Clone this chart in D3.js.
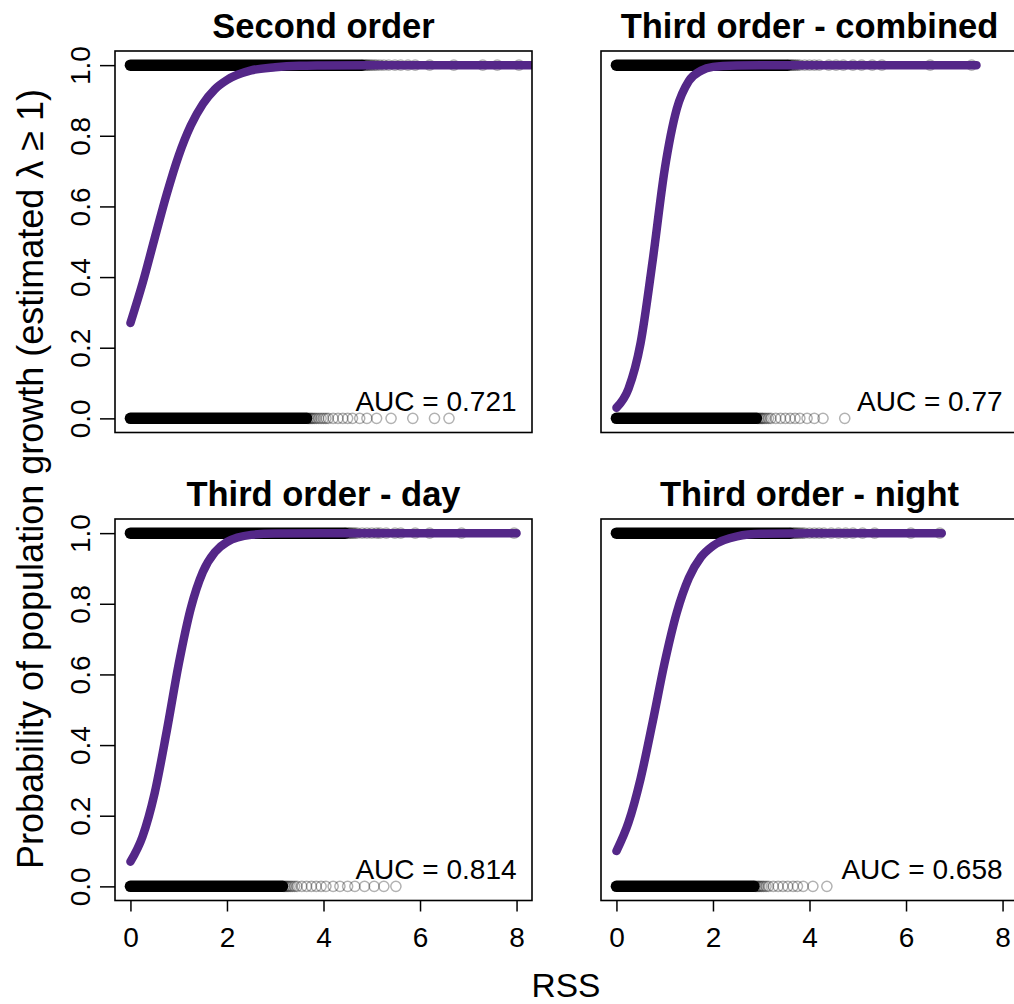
<!DOCTYPE html>
<html><head><meta charset="utf-8">
<script src="https://cdn.jsdelivr.net/npm/d3@7"></script>
<style>
body{margin:0;background:#fff}
svg{display:block}
text{font-family:"Liberation Sans",Arial,Helvetica,sans-serif;fill:#000}
</style>
</head><body>
<svg id="chart" width="1014" height="1004"></svg>
<script>
// ---------- data ----------
const panelTitles = ["Second order", "Third order - combined", "Third order - day", "Third order - night"];
const aucLabels = ["AUC = 0.721", "AUC = 0.77", "AUC = 0.814", "AUC = 0.658"];
const xTicks = [0, 2, 4, 6, 8];
const yTicks = [0, 0.2, 0.4, 0.6, 0.8, 1.0];
const yTickLabels = ["0.0", "0.2", "0.4", "0.6", "0.8", "1.0"];
const xLabel = "RSS";
const yLabel = "Probability of population growth (estimated \u03bb \u2265 1)";

// fitted probability curves: [RSS, probability]
const curveSecond   = [[0,0.270],[0.25,0.382],[0.5,0.509],[0.75,0.634],[1,0.744],[1.25,0.829],[1.5,0.890],[1.75,0.932],[2,0.958],[2.5,0.985],[3,0.994],[3.5,0.998],[4,0.999],[5,1],[6,1],[7,1],[8.32,1]];
const curveCombined = [[0,0.030],[0.25,0.084],[0.5,0.213],[0.75,0.446],[1,0.705],[1.25,0.876],[1.5,0.955],[1.75,0.984],[2,0.995],[2.5,0.999],[3,1],[4,1],[5,1],[6,1],[7.46,1]];
const curveDay      = [[0,0.070],[0.25,0.141],[0.5,0.263],[0.75,0.438],[1,0.629],[1.25,0.787],[1.5,0.890],[1.75,0.946],[2,0.975],[2.5,0.995],[3,0.999],[4,1],[5,1],[6,1],[7,1],[8,1]];
const curveNight    = [[0,0.100],[0.25,0.181],[0.5,0.305],[0.75,0.465],[1,0.634],[1.25,0.775],[1.5,0.873],[1.75,0.932],[2,0.964],[2.5,0.991],[3,0.998],[4,1],[5,1],[6.74,1]];

// observations (lambda >= 1 -> 1, otherwise 0): densely packed RSS ranges
const denseGrowth  = [[0, 4.80], [0, 3.55], [0, 4.45], [0, 3.60]];
const denseDecline = [[0, 3.65], [0, 2.90], [0, 3.15], [0, 2.85]];
// individual observations beyond the dense ranges
const tailGrowth = [
  [4.83,4.86,4.89,4.92,4.96,5.0,5.05,5.1,5.17,5.25,5.35,5.48,5.6,5.75,5.9,6.2,6.7,7.3,7.6,8.05],
  [3.58,3.61,3.64,3.67,3.71,3.75,3.8,3.9,4.0,4.1,4.2,4.4,4.55,4.7,4.9,5.08,5.3,5.5,6.5,7.36],
  [4.48,4.51,4.54,4.57,4.61,4.65,4.7,4.8,4.9,5.0,5.1,5.17,5.3,5.48,5.6,5.9,6.2,6.86,7.95],
  [3.63,3.66,3.69,3.72,3.76,3.8,3.85,3.9,4.0,4.1,4.2,4.3,4.45,4.6,4.75,4.9,5.1,5.35,6.1,6.7]
];
const tailDecline = [
  [3.68,3.71,3.74,3.77,3.81,3.85,3.9,3.95,4.0,4.05,4.1,4.2,4.3,4.4,4.5,4.6,4.75,4.9,5.1,5.4,5.85,6.3,6.6],
  [2.93,2.96,2.99,3.02,3.06,3.1,3.15,3.2,3.3,3.4,3.5,3.6,3.7,3.8,3.95,4.1,4.28,4.73],
  [3.18,3.21,3.24,3.27,3.31,3.35,3.4,3.45,3.55,3.65,3.75,3.85,3.95,4.05,4.2,4.34,4.5,4.65,4.85,5.05,5.25,5.5],
  [2.88,2.91,2.94,2.97,3.01,3.05,3.1,3.15,3.25,3.35,3.45,3.55,3.66,3.75,3.87,4.07,4.36]
];
const curves = [curveSecond, curveCombined, curveDay, curveNight];

// ---------- layout ----------
const svg = d3.select("#chart");
const colX = [115, 601], rowY = [51, 519];
const boxW = 417, boxH = 381.5;
const curveColor = "#542788";
const xDomain = [-0.32, 8.32], yDomain = [-0.04, 1.04];

panelTitles.forEach((title, i) => {
  const col = i % 2, row = Math.floor(i / 2);
  const x0 = colX[col], y0 = rowY[row];
  const x = d3.scaleLinear().domain(xDomain).range([x0, x0 + boxW]);
  const y = d3.scaleLinear().domain(yDomain).range([y0 + boxH, y0]);
  const g = svg.append("g");

  const clipId = "clip" + i;
  g.append("clipPath").attr("id", clipId)
    .append("rect").attr("x", x0).attr("y", y0).attr("width", boxW).attr("height", boxH);
  const inner = g.append("g").attr("clip-path", `url(#${clipId})`);

  // dense observation bands
  const band = d3.line().x(d => x(d[0])).y(d => y(d[1]));
  [[denseGrowth[i], 1], [denseDecline[i], 0]].forEach(([r, v]) => {
    inner.append("path")
      .attr("d", band([[r[0], v], [r[1], v]]))
      .attr("stroke", "#000").attr("stroke-width", 11.5)
      .attr("stroke-linecap", "round").attr("fill", "none");
  });
  // individual observations
  [[tailGrowth[i], 1], [tailDecline[i], 0]].forEach(([arr, v]) => {
    inner.selectAll(null).data(arr).enter().append("circle")
      .attr("cx", d => x(d)).attr("cy", y(v)).attr("r", 5.1)
      .attr("fill", "none").attr("stroke", "#000")
      .attr("stroke-width", 1.5).attr("stroke-opacity", 0.3);
  });

  // fitted curve
  inner.append("path")
    .attr("d", d3.line().x(d => x(d[0])).y(d => y(d[1])).curve(d3.curveMonotoneX)(curves[i]))
    .attr("fill", "none").attr("stroke", curveColor).attr("stroke-width", 8.5)
    .attr("stroke-linecap", "round").attr("stroke-linejoin", "round");

  // box
  g.append("rect").attr("x", x0).attr("y", y0).attr("width", boxW).attr("height", boxH)
    .attr("fill", "none").attr("stroke", "#000").attr("stroke-width", 1.6);

  // title
  g.append("text").attr("x", x0 + boxW / 2).attr("y", y0 - 13)
    .attr("text-anchor", "middle").attr("font-weight", "bold")
    .attr("font-size", 34.5).text(title);

  // AUC label
  g.append("text").attr("x", x(8)).attr("y", y(0.05) + 9.8)
    .attr("text-anchor", "end").attr("font-size", 28).text(aucLabels[i]);

  // y axis (left column)
  if (col === 0) {
    const ya = g.append("g").attr("transform", `translate(${x0},0)`)
      .call(d3.axisLeft(y).tickValues(yTicks).tickSize(15)
        .tickFormat((d, k) => yTickLabels[k]));
    ya.select(".domain").remove();
    ya.selectAll("line").attr("stroke", "#000").attr("stroke-width", 1.5);
    ya.selectAll("text").attr("transform", "rotate(-90)")
      .attr("x", 0).attr("y", -25).attr("dy", null)
      .attr("text-anchor", "middle").attr("font-size", 28)
      .attr("font-family", null);
  }
  // x axis (bottom row)
  if (row === 1) {
    const xa = g.append("g").attr("transform", `translate(0,${y0 + boxH})`)
      .call(d3.axisBottom(x).tickValues(xTicks).tickSize(11));
    xa.select(".domain").remove();
    xa.selectAll("line").attr("stroke", "#000").attr("stroke-width", 1.5);
    xa.selectAll("text").attr("y", 46).attr("dy", null)
      .attr("font-size", 28).attr("font-family", null);
  }
});

// outer axis labels
svg.append("text").attr("x", 566).attr("y", 997)
  .attr("text-anchor", "middle").attr("font-size", 33.5).text(xLabel);
svg.append("text").attr("transform", "translate(43,479) rotate(-90)")
  .attr("text-anchor", "middle").attr("font-size", 36).text(yLabel);
</script>
</body></html>
